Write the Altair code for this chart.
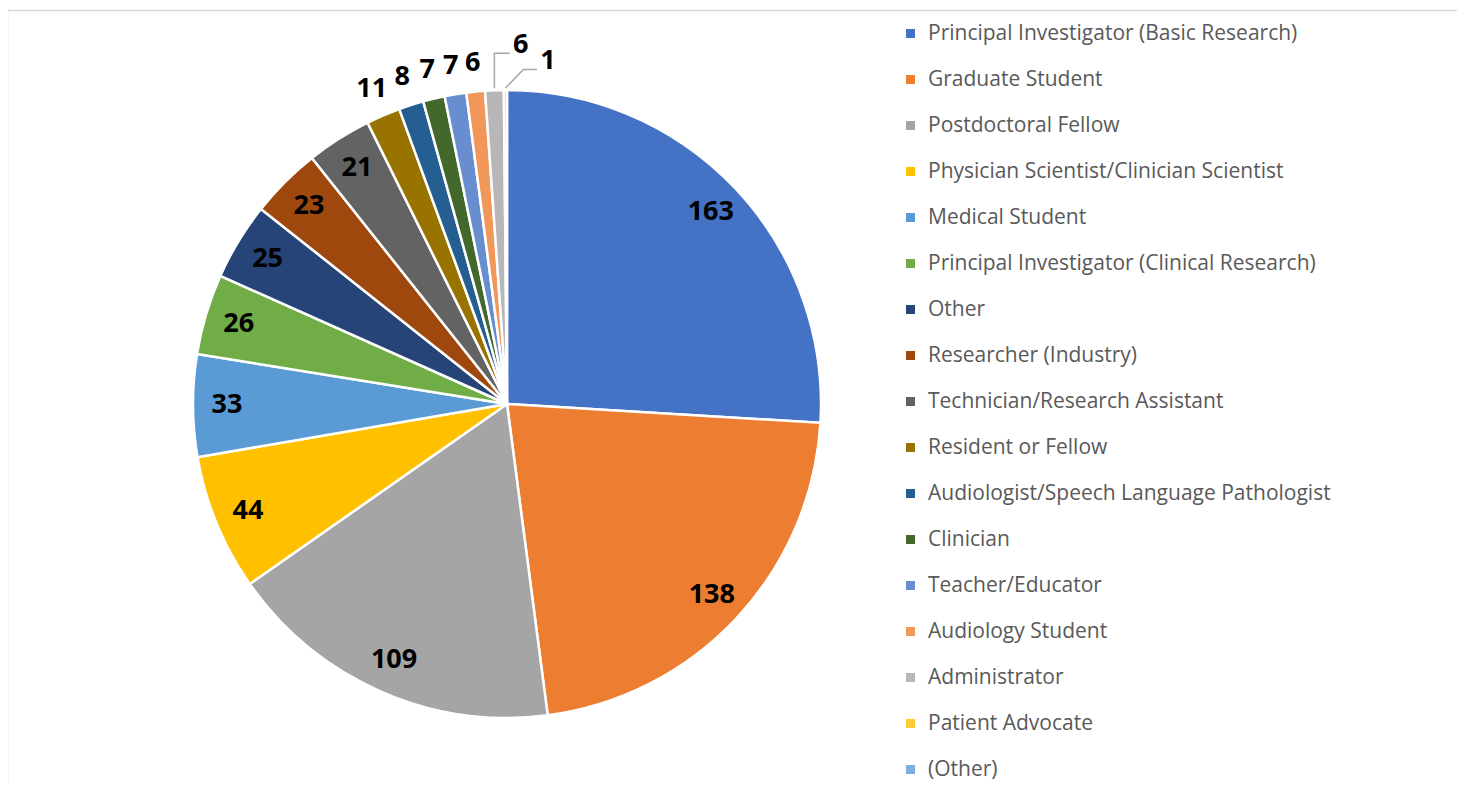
import altair as alt
import numpy as np
import pandas as pd

categories = [
    "Principal Investigator (Basic Research)",
    "Graduate Student",
    "Postdoctoral Fellow",
    "Physician Scientist/Clinician Scientist",
    "Medical Student",
    "Principal Investigator (Clinical Research)",
    "Other",
    "Researcher (Industry)",
    "Technician/Research Assistant",
    "Resident or Fellow",
    "Audiologist/Speech Language Pathologist",
    "Clinician",
    "Teacher/Educator",
    "Audiology Student",
    "Administrator",
    "Patient Advocate",
    "(Other)",
]
values = [163, 138, 109, 44, 33, 26, 25, 23, 21, 11, 8, 7, 7, 6, 6, 1, 0]
colors = [
    "#4472C4", "#ED7D31", "#A5A5A5", "#FFC000", "#5B9BD5", "#70AD47",
    "#264478", "#9E480E", "#636363", "#997300", "#255E91", "#43682B",
    "#698ED0", "#F1975A", "#B7B7B7", "#FFCD33", "#7CAFDD",
]

# ---- layout constants (pixels, plot coordinates) ----
PAD_L, PAD_T = 3, 0
OFFX = 8 + PAD_L  # page -> plot offset
OFFY = 8 + PAD_T
W, H = 1446, 775
CX, CY = 507 - OFFX, 404 - OFFY
R = 314
R_IN = 280
R_OUT = 343
# crowded labels moved aside (angle deg, radius) and leader elbow shift
moved = {"Administrator": (2.2, 359, 0), "Patient Advocate": (6.8, 345, 18)}

df = pd.DataFrame({"category": categories, "value": values, "idx": range(len(values))})
total = df["value"].sum()
cum = df["value"].cumsum()
df["mid"] = (cum - df["value"] / 2) / total * 360.0

def polar(angle_deg, r):
    a = np.radians(angle_deg)
    return CX + r * np.sin(a), CY - r * np.cos(a)

lab_rows, lead_rows = [], []
for _, row in df.iterrows():
    if row["value"] <= 0:
        continue
    if row["category"] in moved:
        ang, rr, shift = moved[row["category"]]
        lx, ly = polar(ang, rr)
        sx, sy = polar(row["mid"], R + 2)
        ey = ly + 8
        lead_rows += [
            {"name": row["category"], "seq": 0, "x": sx, "y": sy},
            {"name": row["category"], "seq": 1, "x": sx + shift, "y": ey},
            {"name": row["category"], "seq": 2, "x": lx - 11, "y": ey},
        ]
    else:
        rr = R_IN if row["value"] >= 20 else R_OUT
        lx, ly = polar(row["mid"], rr)
    lab_rows.append({"label": str(int(row["value"])), "lx": lx, "ly": ly})

labels = pd.DataFrame(lab_rows)
leaders = pd.DataFrame(lead_rows)

pie = (
    alt.Chart(df[df["value"] > 0])
    .mark_arc(outerRadius=R, stroke="white", strokeWidth=2.5)
    .encode(
        theta=alt.Theta("value:Q", stack=True),
        order=alt.Order("idx:Q"),
        color=alt.Color(
            "category:N",
            sort=categories,
            scale=alt.Scale(domain=categories, range=colors),
            legend=alt.Legend(
                title=None,
                orient="none",
                legendX=889,
                legendY=15.0,
                symbolType="square",
                symbolSize=81,
                symbolStrokeWidth=0,
                labelFontSize=21,
                labelFont="Open Sans",
                labelColor="#595959",
                labelOffset=7,
                rowPadding=24.0,
                labelLimit=700,
            ),
        ),
        x=alt.value(CX),
        y=alt.value(CY),
    )
)

text = (
    alt.Chart(labels)
    .mark_text(font="Open Sans", fontWeight="bold", fontSize=27, color="black",
               align="center", baseline="middle")
    .encode(
        x=alt.X("lx:Q", scale=None, axis=None),
        y=alt.Y("ly:Q", scale=None, axis=None),
        text="label:N",
    )
)

lead = (
    alt.Chart(leaders)
    .mark_line(color="#A6A6A6", strokeWidth=1.5)
    .encode(
        x=alt.X("x:Q", scale=None, axis=None),
        y=alt.Y("y:Q", scale=None, axis=None),
        detail="name:N",
        order="seq:Q",
    )
)

frame_top = alt.Chart(pd.DataFrame({"a": [0]})).mark_rule(color="#D9D9D9", strokeWidth=1.5).encode(
    x=alt.value(-3.5), x2=alt.value(W), y=alt.value(2.5)
)
frame_left = alt.Chart(pd.DataFrame({"a": [0]})).mark_rule(color="#D9D9D9", strokeWidth=1.5).encode(
    x=alt.value(-3.5), y=alt.value(2.5), y2=alt.value(H)
)

chart = (
    alt.layer(frame_top, frame_left, pie, lead, text)
    .properties(
        width=W,
        height=H,
        padding={"left": PAD_L, "top": PAD_T, "right": 0, "bottom": 0},
        autosize=alt.AutoSizeParams(type="none"),
    )
    .configure_view(stroke=None)
)

chart.save("out.html", embed_options={"renderer": "svg", "actions": False})
